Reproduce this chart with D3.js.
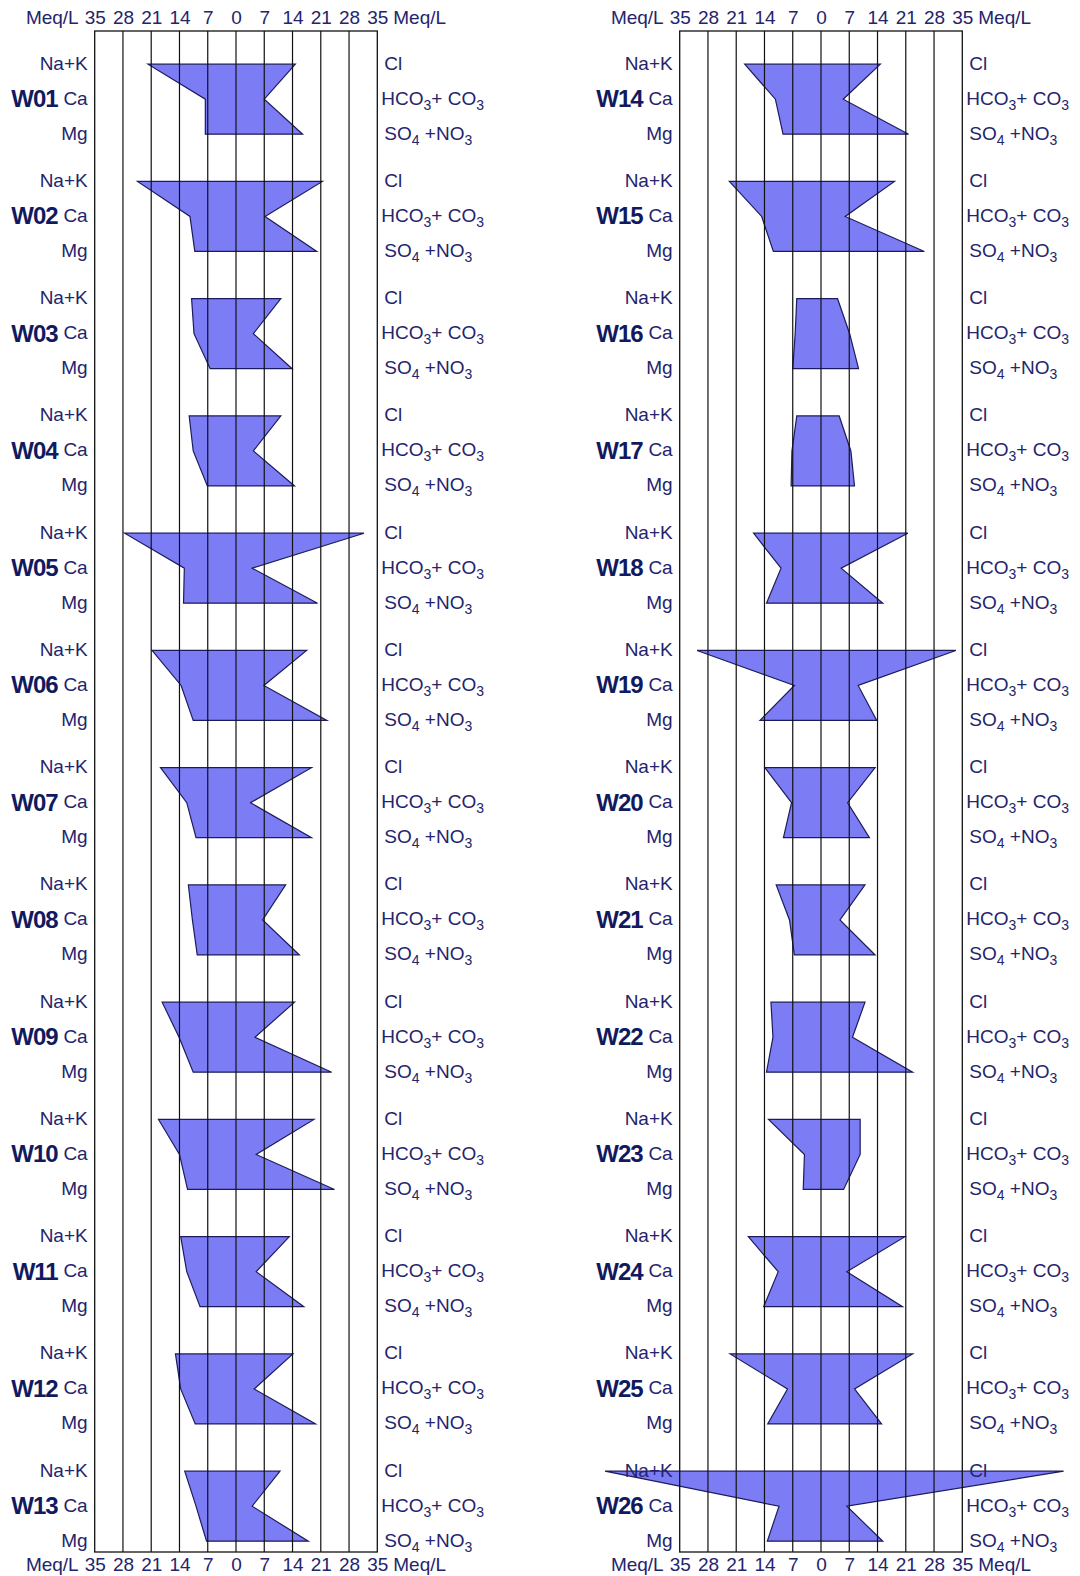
<!DOCTYPE html>
<html>
<head>
<meta charset="utf-8">
<script src="https://cdn.jsdelivr.net/npm/d3@7"></script>
<style>
  body { margin: 0; background: #fff; }
  text { font-family: Arial, "Liberation Sans", sans-serif; fill: #24246c; }
  .well { font-weight: bold; fill: #111a5e; }
</style>
</head>
<body>
<svg id="chart" width="1080" height="1576"></svg>
<script>
// wells and Meq/L values
const wells = ['W01','W02','W03','W04','W05','W06','W07','W08','W09','W10','W11','W12','W13',
               'W14','W15','W16','W17','W18','W19','W20','W21','W22','W23','W24','W25','W26'];
const naK  = [21.8,24.4,11.0,11.6,27.6,20.8,18.7,11.8,18.3,19.2,13.7,15.0,12.7,
              18.9,22.7,6.0,6.0,16.7,30.7,13.9,11.1,12.4,13.0,18.0,22.5,53.5];
const ca   = [7.6,11.4,10.4,10.6,12.8,13.6,12.2,10.8,14.1,14.0,12.2,13.7,9.9,
              11.3,14.7,6.4,7.2,9.9,6.6,7.3,7.8,11.9,4.1,10.6,8.3,10.4];
const mg   = [7.6,10.2,6.4,7.1,13.0,10.6,9.9,9.6,10.6,12.0,8.9,10.1,7.3,
              9.4,11.8,7.0,7.4,13.5,15.1,9.3,6.6,13.5,4.4,14.2,13.2,13.3];
const cl   = [14.7,21.4,11.1,11.1,31.7,17.5,18.7,12.3,14.5,19.3,13.2,14.1,10.9,
              14.7,18.2,4.1,4.5,21.5,33.4,13.4,10.9,10.9,9.7,20.8,22.7,60.1];
const hco3 = [7.0,7.2,4.3,4.3,4.0,6.9,3.6,6.6,4.7,5.0,5.0,4.5,4.0,
              5.5,6.0,7.1,7.4,5.0,9.2,6.6,4.7,7.8,9.7,6.4,8.3,6.4];
const so4  = [16.5,20.0,13.9,14.5,20.2,22.5,18.7,15.7,23.7,24.4,16.8,19.7,17.9,
              21.7,25.6,9.3,8.3,15.3,13.8,12.0,13.4,22.7,5.6,20.2,15.0,15.3];
const tickVals = [-35,-28,-21,-14,-7,0,7,14,21,28,35];

const svg = d3.select('#chart');
const yTop = 31, yBottom = 1552;
const rowH = 35, step = 117.25, firstRow = 64.2;
const panels = [
    { x0: 94.7, x1: 377.3, from: 0 },
    { x0: 679.7, x1: 962.3, from: 13 }
];

panels.forEach(p => {
    const x = d3.scaleLinear().domain([-35, 35]).range([p.x0, p.x1]);
    const y = d3.scaleLinear().domain([0, 12]).range([firstRow, firstRow + 12 * step]);
    const idx = d3.range(p.from, p.from + 13);
    const g = svg.append('g');

    // stiff polygons
    g.selectAll('path.stiff')
        .data(idx)
        .enter()
        .append('path')
        .attr('class', 'stiff')
        .attr('d', i => {
            const r = i - p.from, t = y(r);
            return d3.line()([
                [x(-naK[i]), t], [x(cl[i]), t],
                [x(hco3[i]), t + rowH], [x(so4[i]), t + 2 * rowH],
                [x(-mg[i]), t + 2 * rowH], [x(-ca[i]), t + rowH]
            ]) + 'Z';
        })
        .attr('fill', '#7c7df4')
        .attr('stroke', '#1c1c5c')
        .attr('stroke-width', 1.2)
        .attr('stroke-linejoin', 'miter');

    // grid lines + frame
    g.selectAll('line.grid')
        .data(tickVals.slice(1, -1))
        .enter()
        .append('line')
        .attr('x1', d => x(d)).attr('x2', d => x(d))
        .attr('y1', yTop).attr('y2', yBottom)
        .attr('stroke', '#111')
        .attr('stroke-width', 1.2);
    g.append('rect')
        .attr('x', p.x0).attr('y', yTop)
        .attr('width', p.x1 - p.x0).attr('height', yBottom - yTop)
        .attr('fill', 'none')
        .attr('stroke', '#111')
        .attr('stroke-width', 1.3);

    // axes top and bottom
    const axT = g.append('g').attr('transform', 'translate(0,' + (yTop - 7.5) + ')')
        .call(d3.axisTop(x).tickValues(tickVals).tickFormat(d => Math.abs(d)).tickSize(0).tickPadding(0));
    const axB = g.append('g').attr('transform', 'translate(0,' + (yBottom + 19) + ')')
        .call(d3.axisTop(x).tickValues(tickVals).tickFormat(d => Math.abs(d)).tickSize(0).tickPadding(0));
    [axT, axB].forEach(a => {
        a.select('.domain').remove();
        a.selectAll('text').attr('font-size', 19).attr('fill', '#24246c')
            .attr('font-family', 'Arial, "Liberation Sans", sans-serif');
        a.append('text').attr('x', p.x0 - 16).attr('text-anchor', 'end').attr('font-size', 19).text('Meq/L');
        a.append('text').attr('x', p.x1 + 16).attr('text-anchor', 'start').attr('font-size', 19).text('Meq/L');
    });

    // row labels
    idx.forEach(i => {
        const t = y(i - p.from);
        const lab = g.append('g').attr('font-size', 19);
        const lx = p.x0 - 7, rx = p.x1 + 7;
        [['Na+K', 0], ['Ca', 1], ['Mg', 2]].forEach(([s, k]) => {
            lab.append('text').attr('x', lx).attr('y', t + k * rowH + 5.5)
                .attr('text-anchor', 'end').text(s);
        });
        lab.append('text').attr('class', 'well')
            .attr('x', p.x0 - 37).attr('y', t + rowH + 8)
            .attr('text-anchor', 'end').attr('font-size', 24)
            .attr('letter-spacing', -1)
            .text(wells[i]);
        lab.append('text').attr('x', rx).attr('y', t + 5.5).text('Cl');
        const h = lab.append('text').attr('x', rx - 3).attr('y', t + rowH + 5.5);
        h.append('tspan').text('HCO');
        h.append('tspan').attr('dy', 5).attr('font-size', 14).text('3');
        h.append('tspan').attr('dy', -5).text('+ CO');
        h.append('tspan').attr('dy', 5).attr('font-size', 14).text('3');
        const s = lab.append('text').attr('x', rx).attr('y', t + 2 * rowH + 5.5);
        s.append('tspan').text('SO');
        s.append('tspan').attr('dy', 5).attr('font-size', 14).text('4');
        s.append('tspan').attr('dy', -5).text(' +NO');
        s.append('tspan').attr('dy', 5).attr('font-size', 14).text('3');
    });
});
</script>
</body>
</html>
